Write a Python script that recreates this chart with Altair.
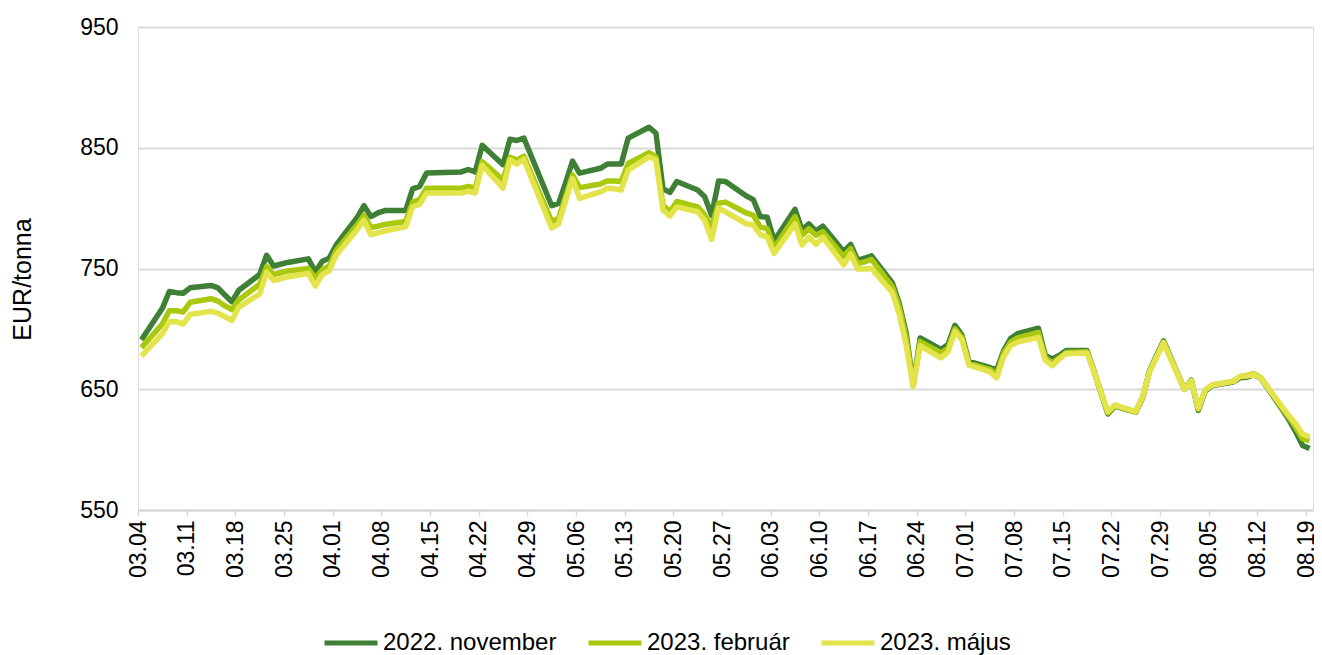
import altair as alt
import pandas as pd

dates = ["03-04","03-07","03-08","03-09","03-10","03-11","03-14","03-15","03-16","03-17","03-18","03-21","03-22","03-23","03-24","03-25","03-28","03-29","03-30","03-31",
         "04-01","04-04","04-05","04-06","04-07","04-08","04-11","04-12","04-13","04-14","04-19","04-20","04-21","04-22","04-25","04-26","04-27","04-28","04-29",
         "05-02","05-03","05-04","05-05","05-06","05-09","05-10","05-11","05-12","05-13","05-16","05-17","05-18","05-19","05-20","05-23","05-24","05-25","05-26","05-27","05-30","05-31",
         "06-01","06-02","06-03","06-06","06-07","06-08","06-09","06-10","06-13","06-14","06-15","06-16","06-17","06-20","06-21","06-22","06-23","06-24","06-27","06-28","06-29","06-30",
         "07-01","07-04","07-05","07-06","07-07","07-08","07-11","07-12","07-13","07-14","07-15","07-18","07-19","07-20","07-21","07-22","07-25","07-26","07-27","07-28","07-29",
         "08-01","08-02","08-03","08-04","08-05","08-08","08-09","08-10","08-11","08-12","08-15","08-16","08-17","08-18","08-19"]

nov_2022 = [691, 717, 731, 730, 729.5, 734, 736, 734, 728, 722.5, 732, 745, 761, 752, 753.5, 755, 758, 747, 756, 758.5,
            769.5, 792, 802, 793, 796, 798, 798, 816, 818, 829, 830, 832, 830, 852, 836, 857, 856, 858, 844,
            802, 804, 821, 839, 829, 833, 836.5, 836.5, 836.5, 858, 867, 862, 816, 813, 822, 815, 809.5, 794, 822.5, 822, 810, 807,
            793, 792.5, 773, 799, 782, 787, 781, 785, 764, 770, 757, 758.5, 760.5, 738, 721, 696, 653.5, 692.5, 683, 687, 703, 695,
            673, 668, 666, 682, 692, 696, 700.5, 678, 675, 678, 682, 682, 665, 647, 629.5, 636, 631, 643, 665.5, 678, 690,
            650, 657.5, 632.5, 648.5, 653, 656, 659.5, 660, 662, 659, 634, 625, 615, 603.5, 601]

feb_2023 = [684.5, 704, 715, 715, 714, 722, 725, 723, 719, 716, 724, 737, 751.5, 745, 746.5, 748, 750, 742, 749, 752,
            765, 786, 794, 784, 785, 786.5, 789, 805, 807, 816.5, 816.5, 818, 816.5, 838.5, 823.5, 842, 840, 843, 829.5,
            789, 791.5, 809.5, 827.5, 817, 820, 822.5, 822.5, 822, 837, 846, 842.5, 802.5, 797, 805.5, 801, 794.5, 784.5, 804, 805, 796, 794,
            784.5, 783, 767, 793, 777.5, 783, 777.5, 780.5, 760, 766.5, 754, 755.5, 757.5, 735, 718, 692, 653, 689.5, 680, 684, 700, 693,
            671.5, 666.5, 662.5, 680, 689, 692.5, 697, 676, 672, 676, 680.5, 681, 665, 647, 630.5, 636.5, 631, 643.5, 665, 677, 689,
            650, 657, 633.5, 649, 653.5, 656.5, 660.5, 661.5, 663, 659.5, 635, 627, 618.5, 609, 607.5]

maj_2023 = [677.5, 696, 706, 706, 704, 712, 714.5, 713, 710, 707, 718, 729, 747, 740, 741.5, 743, 746, 735.5, 745, 748,
            761, 782, 790, 778, 779.5, 781, 784.5, 801, 803, 812.5, 812.5, 814, 812.5, 835.5, 816.5, 840, 836.5, 840.5, 826,
            783.5, 787, 806, 824.5, 808, 813.5, 816.5, 816, 815, 831.5, 842.5, 840, 798.5, 793.5, 801, 797, 790, 774, 800, 797, 787, 786,
            778, 776, 762.5, 787, 769.5, 776, 770, 776, 753, 762, 749.5, 749.5, 750, 730, 712, 686, 652, 686, 676, 681, 698, 691,
            670, 664.5, 659.5, 677, 686, 689, 693, 674, 669.5, 675, 679.5, 680, 664.5, 647.5, 631.5, 637, 631.5, 644, 664.5, 676.5, 688.5,
            650, 657, 634.5, 649.5, 653.5, 656.5, 660.5, 661, 662.5, 659, 636, 628.5, 621.5, 613, 610.5]

series_names = ["2022. november", "2023. február", "2023. május"]
series_colors = ["#3F7F36", "#A9C90E", "#E3E44B"]
y_ticks = [550, 650, 750, 850, 950]

rows = []
for name, vals in zip(series_names, [nov_2022, feb_2023, maj_2023]):
    for d, v in zip(dates, vals):
        rows.append({"date": f"2022-{d}T12:00:00", "series": name, "value": v})
df = pd.DataFrame(rows)

week_ticks = [alt.DateTime(year=2022, month=m, date=dd) for m, dd in
              [(3,4),(3,11),(3,18),(3,25),(4,1),(4,8),(4,15),(4,22),(4,29),(5,6),(5,13),(5,20),(5,27),
               (6,3),(6,10),(6,17),(6,24),(7,1),(7,8),(7,15),(7,22),(7,29),(8,5),(8,12),(8,19)]]

FONT = "Liberation Sans, Arial, sans-serif"

x_enc = alt.X("date:T",
              scale=alt.Scale(domain=[alt.DateTime(year=2022, month=3, date=4),
                                      alt.DateTime(year=2022, month=8, date=20)]),
              axis=alt.Axis(values=week_ticks, format="%m.%d", labelAngle=-90, labelFontSize=23,
                            labelColor="#000000", labelFlush=False, labelOverlap=False,
                            labelPadding=4, grid=False, domainColor="#d9d9d9", domainWidth=2,
                            tickColor="#d9d9d9", tickSize=6, tickWidth=1.5, title=None))
y_enc = alt.Y("value:Q",
              scale=alt.Scale(domain=[550, 950], nice=False, zero=False),
              axis=alt.Axis(values=y_ticks, title="EUR/tonna", titleFontSize=25, titleFontWeight="normal",
                            titleColor="#000000", titlePadding=44, titleY=252, labelFontSize=23,
                            labelColor="#000000", labelPadding=20, domain=False, ticks=False, tickSize=0,
                            gridColor="#d9d9d9", gridWidth=2))
color_enc = alt.Color("series:N",
                      scale=alt.Scale(domain=series_names, range=series_colors),
                      legend=alt.Legend(orient="none", legendX=184, legendY=587, direction="horizontal",
                                        title=None, symbolType="stroke", symbolSize=2809,
                                        symbolStrokeWidth=5, labelFontSize=24, labelColor="#000000",
                                        labelLimit=400, labelOffset=3, columnPadding=21, padding=0))

base = alt.Chart(df).mark_line(strokeWidth=5.5, strokeJoin="round").encode(x=x_enc, y=y_enc, color=color_enc)
layers = [base.transform_filter(alt.datum.series == s) for s in series_names]

chart = alt.layer(*layers).properties(
    width=1175, height=483,
    autosize=alt.AutoSizeParams(type="none"),
    padding={"left": 130, "top": 19, "right": 1, "bottom": 145},
    background="white",
).configure_view(stroke=None).configure(font=FONT)

chart.save("out.html", embed_options={"renderer": "svg", "actions": False})
